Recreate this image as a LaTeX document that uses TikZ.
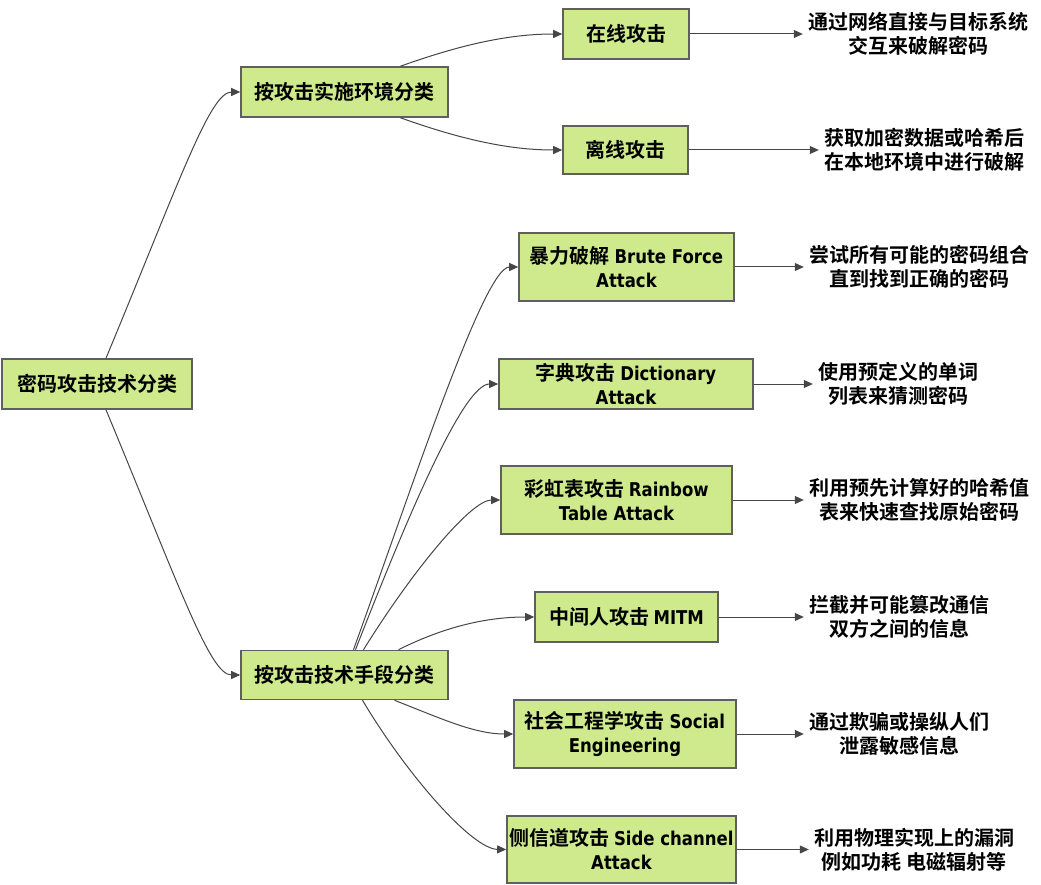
\documentclass[tikz,border=0pt]{standalone}
\usepackage{fontspec}
\setmainfont{DejaVu Sans}
\newfontfamily\cjk{Noto Sans CJK SC Bold}
\newfontfamily\en{DejaVu Sans}[Scale=0.95, FakeStretch=0.87]
\newcommand{\lat}[1]{{\en\bfseries #1}}
\usetikzlibrary{arrows.meta, positioning}
\definecolor{boxgreen}{RGB}{206,234,141}
\definecolor{boxedge}{RGB}{95,95,95}
\definecolor{linegray}{RGB}{70,70,70}
\tikzstyle{arrow} = [line width=1pt, draw=linegray, ->, >={Triangle[length=9pt,width=8pt]}]
\tikzstyle{category} = [rectangle, draw=boxedge, line width=1.6pt, fill=boxgreen, align=center, inner sep=2pt, font=\cjk\fontsize{20}{24}\selectfont]
\tikzstyle{desc} = [align=center, inner sep=5pt, font=\cjk\fontsize{20}{24}\selectfont]

\begin{document}
\begin{tikzpicture}[x=1pt, y=-1pt]
\useasboundingbox (0,0) rectangle (1041,885);

% Root
\node (root) [category, minimum width=190pt, minimum height=50pt] at (97,384) {密码攻击技术分类};

% Classification by environment
\node (env) [category, minimum width=207pt, minimum height=50pt] at (344.5,92) {按攻击实施环境分类};
\node (online) [category, minimum width=126pt, minimum height=50pt] at (626,34) {在线攻击};
\node (offline) [category, minimum width=125pt, minimum height=48pt] at (625.5,150) {离线攻击};

% Classification by technique
\node (tech) [category, minimum width=207pt, minimum height=49pt] at (344.5,675) {按攻击技术手段分类};
\node (brute) [category, minimum width=215pt, minimum height=68pt] at (626.5,267) {暴力破解 \lat{Brute Force}\\\lat{Attack}};
\node (dict_attack) [category, minimum width=254pt, minimum height=50pt] at (626,384) {字典攻击 \lat{Dictionary}\\\lat{Attack}};
\node (rainbow) [category, minimum width=231pt, minimum height=68pt] at (616.5,500) {彩虹表攻击 \lat{Rainbow}\\\lat{Table Attack}};
\node (mitm) [category, minimum width=183pt, minimum height=50pt] at (626.5,617) {中间人攻击 \lat{MITM}};
\node (social) [category, minimum width=222pt, minimum height=68pt] at (625,734) {社会工程学攻击 \lat{Social}\\\lat{Engineering}};
\node (side_channel) [category, minimum width=229pt, minimum height=67pt] at (621.5,849.5) {侧信道攻击 \lat{Side channel}\\\lat{Attack}};

% Descriptions
\node (online_desc) [desc, right=113pt of online] {通过网络直接与目标系统\\交互来破解密码};
\node (offline_desc) [desc, right=130pt of offline] {获取加密数据或哈希后\\在本地环境中进行破解};
\node (brute_desc) [desc, right=69pt of brute] {尝试所有可能的密码组合\\直到找到正确的密码};
\node (dict_desc) [desc, right=59pt of dict_attack] {使用预定义的单词\\列表来猜测密码};
\node (rainbow_desc) [desc, right=71pt of rainbow] {利用预先计算好的哈希值\\表来快速查找原始密码};
\node (mitm_desc) [desc, right=85pt of mitm] {拦截并可能篡改通信\\双方之间的信息};
\node (social_desc) [desc, right=67pt of social] {通过欺骗或操纵人们\\泄露敏感信息};
\node (side_desc) [desc, right=72pt of side_channel] {利用物理实现上的漏洞\\例如功耗 电磁辐射等};

% Connections
\draw [arrow] ([xshift=9pt]root.north) .. controls (180,180) and (210,92) .. (env.west);
\draw [arrow] ([xshift=9pt]root.south) .. controls (180,588) and (210,675) .. (tech.west);
\draw [arrow] ([xshift=56pt]env.north) .. controls (460,45) and (508,34) .. (online.west);
\draw [arrow] ([xshift=56pt]env.south) .. controls (460,139) and (508,150) .. (offline.west);
\draw [arrow] ([xshift=9pt]tech.north) .. controls (413,485) and (484,267) .. (brute.west);
\draw [arrow] ([xshift=11pt]tech.north) .. controls (410,510) and (464,384) .. (dict_attack.west);
\draw [arrow] ([xshift=19pt]tech.north) .. controls (413,570) and (471,500) .. (rainbow.west);
\draw [arrow] ([xshift=54pt]tech.north) .. controls (448,625) and (490,617) .. (mitm.west);
\draw [arrow] ([xshift=50pt]tech.south) .. controls (440,718) and (474,734) .. (social.west);
\draw [arrow] ([xshift=18pt]tech.south) .. controls (407,775) and (472,849) .. (side_channel.west);

\draw [arrow] (online) -- (online_desc);
\draw [arrow] (offline) -- (offline_desc);
\draw [arrow] (brute) -- (brute_desc);
\draw [arrow] (dict_attack) -- (dict_desc);
\draw [arrow] (rainbow) -- (rainbow_desc);
\draw [arrow] (mitm) -- (mitm_desc);
\draw [arrow] (social) -- (social_desc);
\draw [arrow] (side_channel) -- (side_desc);

\end{tikzpicture}
\end{document}
